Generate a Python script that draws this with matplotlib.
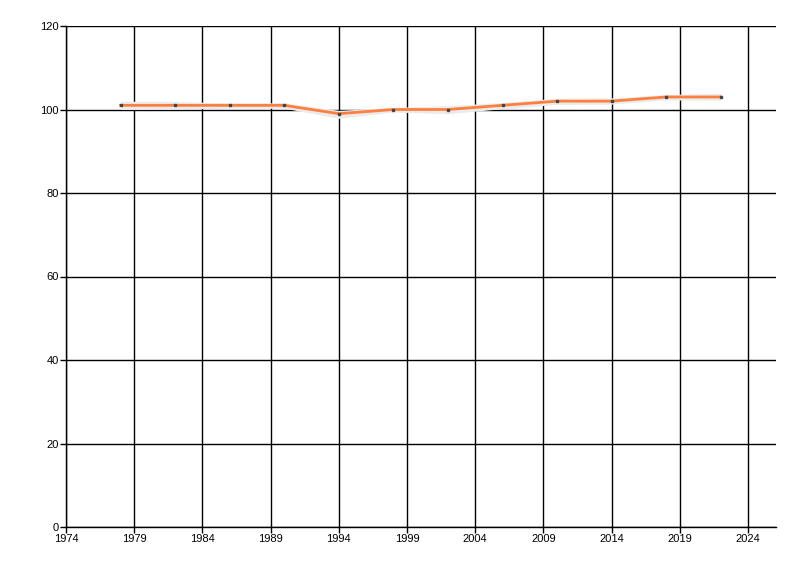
import matplotlib
matplotlib.use("Agg")
import matplotlib.pyplot as plt

years = [1978, 1982, 1986, 1990, 1994, 1998, 2002, 2006, 2010, 2014, 2018, 2022]
values = [101, 101, 101, 101, 99, 100, 100, 101, 102, 102, 103, 103]
band_lower = [100.0, 100.1, 100.3, 100.3, 97.9, 99.4, 99.0, 100.2, 101.2, 101.3, 102.3, 102.2]
band_upper = [102.0, 101.9, 101.6, 101.6, 99.8, 100.5, 100.9, 101.7, 102.7, 102.8, 103.6, 103.9]
xticks = [1974, 1979, 1984, 1989, 1994, 1999, 2004, 2009, 2014, 2019, 2024]
yticks = [0, 20, 40, 60, 80, 100, 120]

plt.rcParams['font.family'] = ['Liberation Sans', 'DejaVu Sans']
fig = plt.figure(figsize=(8, 5.76), dpi=100)
ax = fig.add_axes([66/800, 1-527/576, 710/800, 501/576])

ax.fill_between(years, band_lower, band_upper, color='#ebebeb', lw=0, zorder=2)
ax.plot(years, values, color='#ff7f3f', lw=2, zorder=3)
ax.plot(years, values, ls='none', marker='s', ms=2, color='#444444', zorder=4)

ax.set_xlim(1974, 2026.05)
ax.set_ylim(0, 120)
ax.set_xticks(xticks)
ax.set_yticks(yticks)
ax.set_xticklabels([str(x) for x in xticks])
ax.set_yticklabels([str(y) for y in yticks])
ax.grid(True, color='black', lw=1)
ax.set_axisbelow(True)
for s in ['top', 'right']:
    ax.spines[s].set_visible(False)
for s in ['left', 'bottom']:
    ax.spines[s].set_color('black')
    ax.spines[s].set_linewidth(1)
ax.tick_params(axis='both', length=4, width=1, labelsize=8, color='black', labelcolor='black', pad=1)

fig.savefig('out.png', dpi=100)
